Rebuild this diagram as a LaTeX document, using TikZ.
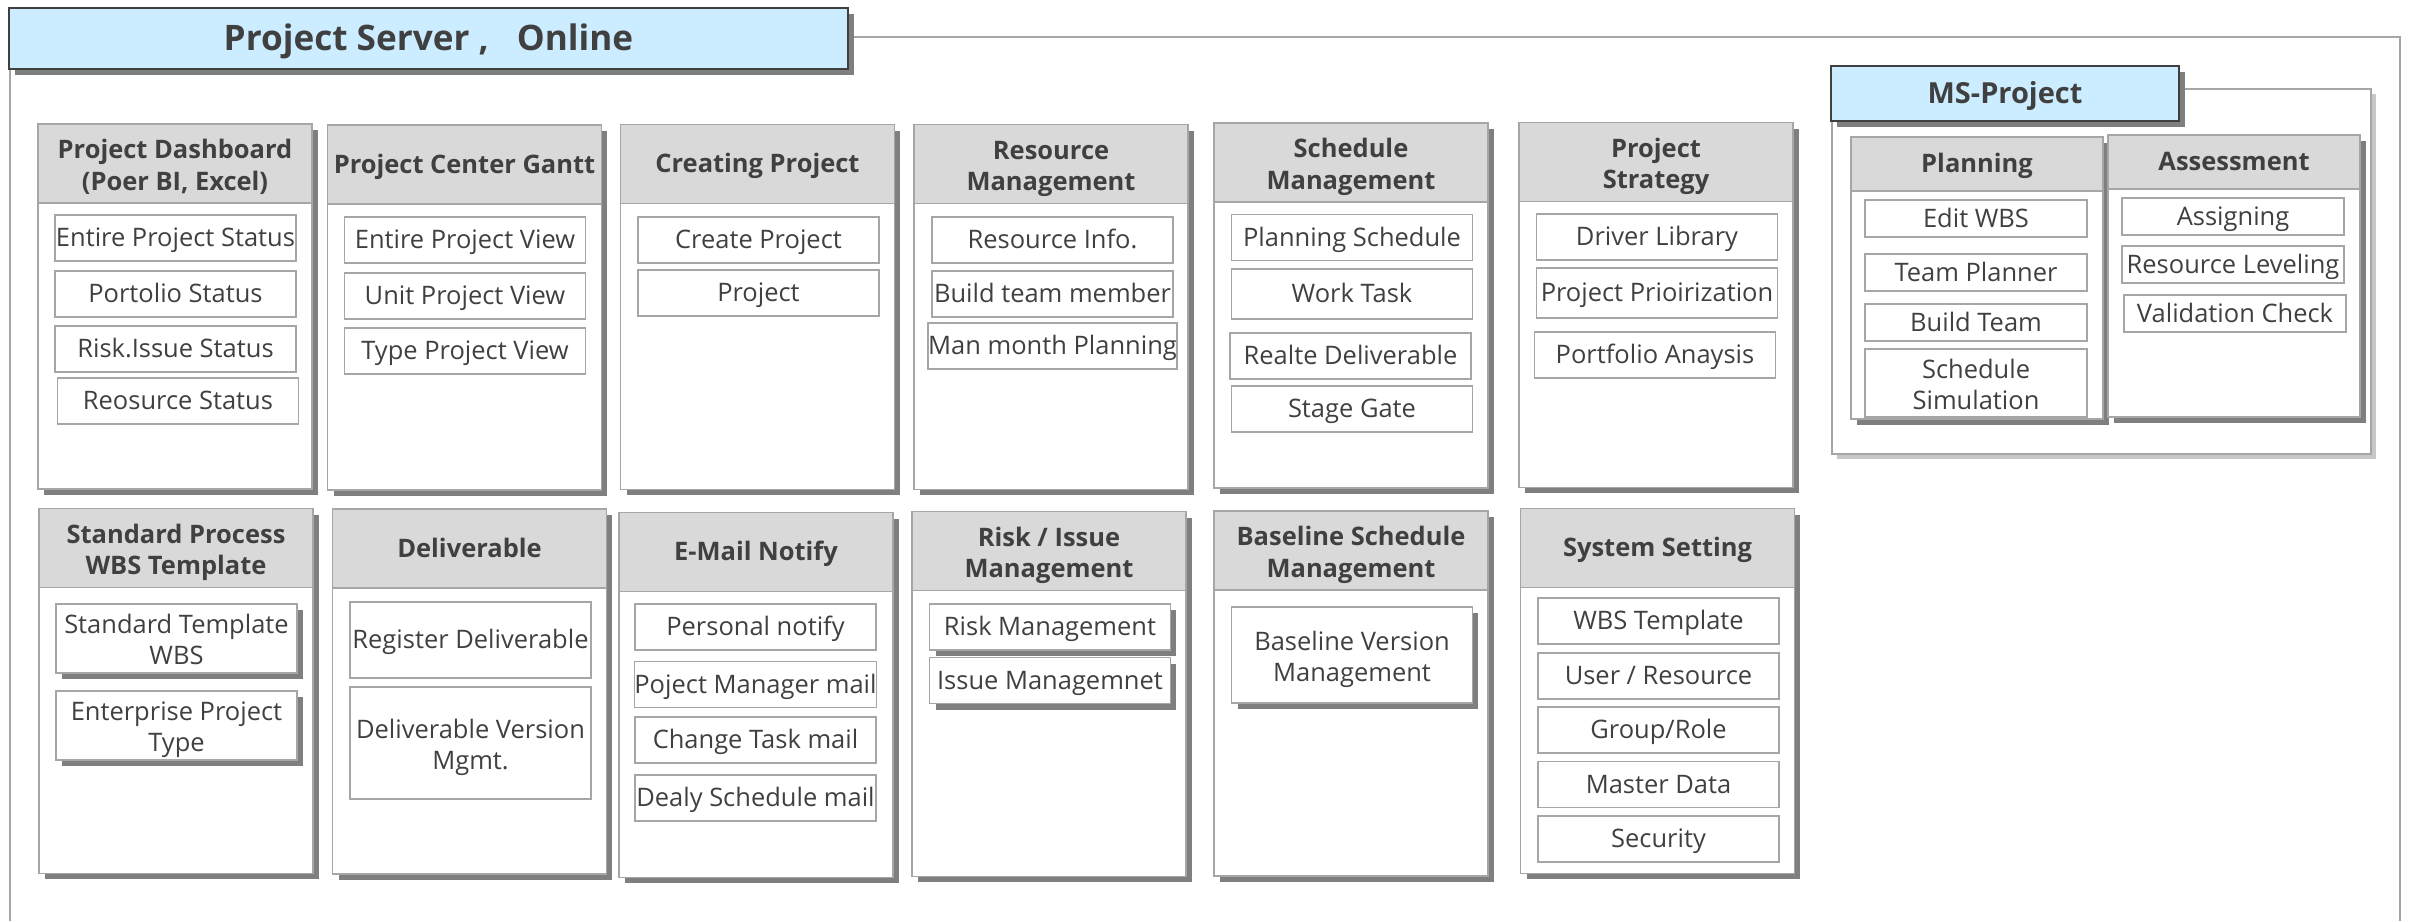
\documentclass[tikz,border=0pt]{standalone}
\usepackage{fontspec}
\setmainfont{Open Sans}
\usetikzlibrary{positioning, shadows}
\definecolor{titleblue}{HTML}{CCECFF}
\definecolor{headgray}{HTML}{D9D9D9}
\definecolor{linegray}{HTML}{A6A6A6}
\definecolor{shadowgray}{HTML}{7F7F7F}
\definecolor{textgray}{HTML}{404040}
\newcommand{\itemfont}{\fontsize{14.5}{17.5}\selectfont}
\newcommand{\headfont}{\fontsize{14.5}{18}\selectfont\bfseries}
\newcommand{\cstrut}{\rule[-0.25em]{0pt}{1.2em}}
\newcommand{\tstrut}{\rule{0pt}{1.1em}}

\begin{document}
\begin{tikzpicture}[
        x=0.02cm, y=-0.02cm,
        every node/.style={text=textgray, execute at begin node=\cstrut, execute at end node=\cstrut},
        frame/.style={draw=linegray, line width=0.9pt},
        titlebox/.style={draw=textgray, line width=1.2pt, fill=titleblue, minimum width=16.78cm, minimum height=1.22cm, inner sep=0pt, font=\fontsize{20}{24}\selectfont\bfseries, drop shadow={shadow xshift=0.12cm, shadow yshift=-0.12cm, fill=shadowgray, opacity=1}},
        col/.style={draw=linegray, line width=1pt, fill=white, minimum width=5.48cm, minimum height=7.3cm, inner sep=0pt, drop shadow={shadow xshift=0.12cm, shadow yshift=-0.12cm, fill=shadowgray, opacity=1}},
        head/.style={draw=linegray, line width=1pt, fill=headgray, minimum width=5.48cm, minimum height=1.58cm, inner sep=0pt, anchor=north, align=center, font=\headfont},
        item/.style={draw=linegray, line width=0.8pt, fill=white, minimum width=4.82cm, minimum height=0.92cm, inner sep=0pt, align=center, font=\itemfont},
        raised/.style={drop shadow={shadow xshift=0.12cm, shadow yshift=-0.12cm, fill=shadowgray, opacity=1}},
        panel/.style={draw=linegray, line width=0.9pt, fill=white, minimum width=10.78cm, minimum height=7.3cm, drop shadow={shadow xshift=0.1cm, shadow yshift=-0.1cm, fill=black!22, opacity=1}},
        mcol/.style={col, minimum width=5.04cm, minimum height=5.64cm},
        mhead/.style={head, minimum width=5.04cm, minimum height=1.08cm},
        mitem/.style={item, minimum width=4.44cm, minimum height=0.74cm}
    ]
        \useasboundingbox (0,0) rectangle (2413,921);

        % Project Server frame
        \draw[frame] (10,921) |- (2400,37) -- (2400,921);
        \node[titlebox] (srv) at (428.5,38.5) {Project Server ,\hspace{0.8em}Online};

        % Project Dashboard
        \node[col] (dash) at (175,306.5) {};
        \node[head] (dashh) at (dash.north) {\tstrut Project Dashboard\\(Poer BI, Excel)};
        \node[item] (dash1) at (175.5,238) {Entire Project Status};
        \node[item] (dash2) at (175.5,294) {Portolio Status};
        \node[item] (dash3) at (175.5,349) {Risk.Issue Status};
        \node[item] (dash4) at (178,401) {Reosurce Status};

        % Project Center Gantt
        \node[col] (gantt) at (464.5,307.5) {};
        \node[head] (gantth) at (gantt.north) {Project Center Gantt};
        \node[item] (gantt1) at (465,240) {Entire Project View};
        \node[item] (gantt2) at (465,296) {Unit Project View};
        \node[item] (gantt3) at (465,351) {Type Project View};

        % Creating Project
        \node[col] (crea) at (757.5,307) {};
        \node[head] (creah) at (crea.north) {Creating Project};
        \node[item] (crea1) at (758.5,240) {Create Project};
        \node[item] (crea2) at (758.5,293) {Project};

        % Resource Management
        \node[col] (res) at (1051,307) {};
        \node[head] (resh) at (res.north) {\tstrut Resource\\Management};
        \node[item] (res1) at (1052.5,240) {Resource Info.};
        \node[item] (res2) at (1052.5,294) {Build team member};
        \node[item] (res3) at (1052.5,346) {Man month Planning};

        % Schedule Management
        \node[col] (sch) at (1351,305.5) {};
        \node[head] (schh) at (sch.north) {\tstrut Schedule\\Management};
        \node[item] (sch1) at (1352,237.5) {Planning Schedule};
        \node[item, minimum height=1cm] (sch2) at (1352,294) {Work Task};
        \node[item] (sch3) at (1350.5,356) {Realte Deliverable};
        \node[item] (sch4) at (1352,409) {Stage Gate};

        % Project Strategy
        \node[col] (strat) at (1656,305) {};
        \node[head] (strath) at (strat.north) {\tstrut Project\\Strategy};
        \node[item] (strat1) at (1657,237) {Driver Library};
        \node[item, minimum height=1cm] (strat2) at (1657,293) {Project Prioirization};
        \node[item] (strat3) at (1655,355) {Portfolio Anaysis};

        % Standard Process
        \node[col] (std) at (176,691) {};
        \node[head] (stdh) at (std.north) {\tstrut Standard Process\\WBS Template};
        \node[item, raised, minimum height=1.38cm] (std1) at (176.5,638.5) {\tstrut Standard Template\\WBS};
        \node[item, raised, minimum height=1.38cm] (std2) at (176.5,725.5) {\tstrut Enterprise Project\\Type};

        % Deliverable
        \node[col] (deliv) at (469.5,691.5) {};
        \node[head] (delivh) at (deliv.north) {Deliverable};
        \node[item, minimum height=1.52cm] (deliv1) at (470.5,640) {Register Deliverable};
        \node[item, minimum height=2.24cm] (deliv2) at (470.5,743) {\tstrut Deliverable Version\\Mgmt.};

        % E-Mail Notify
        \node[col] (mail) at (756,695) {};
        \node[head] (mailh) at (mail.north) {E-Mail Notify};
        \node[item] (mail1) at (755.5,627) {Personal notify};
        \node[item] (mail2) at (755.5,684.5) {Poject Manager mail};
        \node[item] (mail3) at (755.5,740) {Change Task mail};
        \node[item] (mail4) at (755.5,798) {Dealy Schedule mail};

        % Risk / Issue
        \node[col] (risk) at (1049,694) {};
        \node[head] (riskh) at (risk.north) {\tstrut Risk / Issue\\Management};
        \node[item, raised] (risk1) at (1050,627) {Risk Management};
        \node[item, raised] (risk2) at (1050,680.5) {Issue Managemnet};

        % Baseline Schedule
        \node[col] (base) at (1351,693.5) {};
        \node[head] (baseh) at (base.north) {\tstrut Baseline Schedule\\Management};
        \node[item, raised, minimum height=1.92cm] (base1) at (1352,655) {\tstrut Baseline Version\\Management};

        % System Setting
        \node[col] (sys) at (1657.5,691) {};
        \node[head] (sysh) at (sys.north) {System Setting};
        \node[item] (sys1) at (1658.5,621) {WBS Template};
        \node[item] (sys2) at (1658.5,676) {User / Resource};
        \node[item] (sys3) at (1658.5,730) {Group/Role};
        \node[item] (sys4) at (1658.5,784.5) {Master Data};
        \node[item] (sys5) at (1658.5,839) {Security};

        % MS-Project panel
        \node[panel] (ms) at (2101.5,271.5) {};
        \node[titlebox, minimum width=6.96cm, minimum height=1.1cm, font=\fontsize{16.5}{20}\selectfont\bfseries] (msh) at (2005,93.5) {MS-Project};

        % Planning
        \node[mcol] (plan) at (1977,278) {};
        \node[mhead] (planh) at (plan.north) {Planning};
        \node[mitem] (plan1) at (1976,218.5) {Edit WBS};
        \node[mitem] (plan2) at (1976,272.5) {Team Planner};
        \node[mitem] (plan3) at (1976,322.5) {Build Team};
        \node[mitem, minimum height=1.36cm] (plan4) at (1976,383) {\tstrut Schedule\\Simulation};

        % Assessment
        \node[mcol] (assess) at (2234,276) {};
        \node[mhead] (assessh) at (assess.north) {Assessment};
        \node[mitem] (assess1) at (2233,216.5) {Assigning};
        \node[mitem] (assess2) at (2233,264.5) {Resource Leveling};
        \node[mitem] (assess3) at (2235,313.5) {Validation Check};
    \end{tikzpicture}
\end{document}
